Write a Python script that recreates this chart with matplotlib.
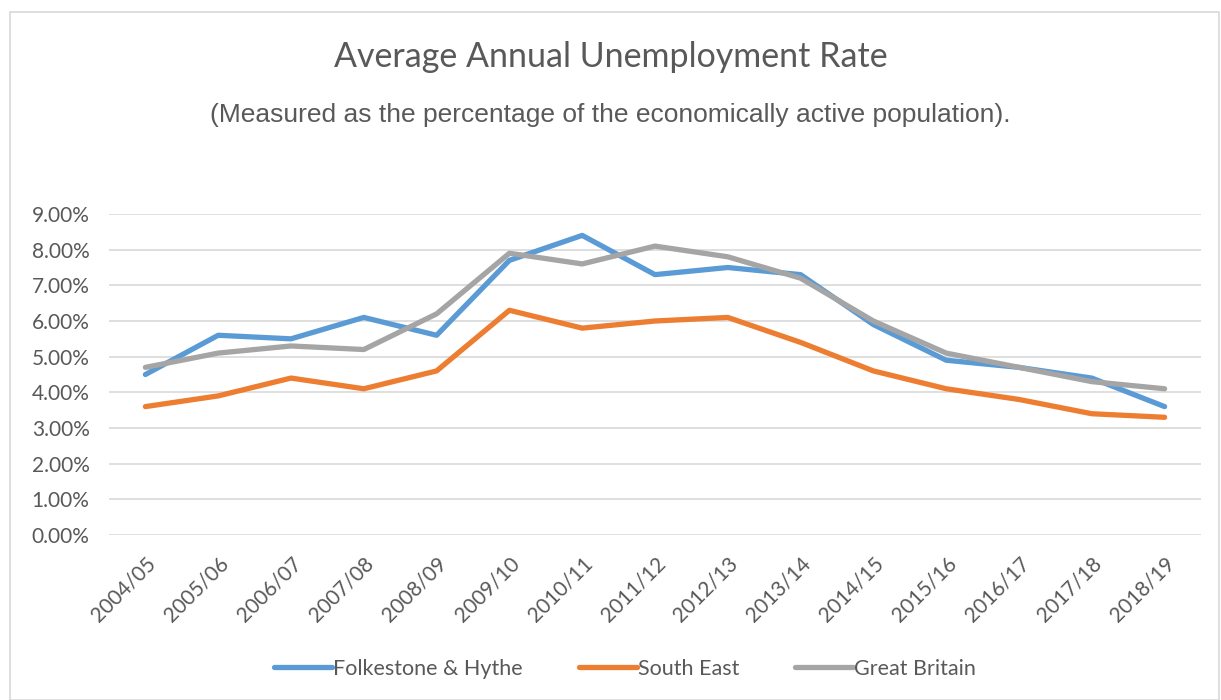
import matplotlib.pyplot as plt
from matplotlib.patches import Rectangle
from matplotlib.ticker import FuncFormatter

# Survey years
years = ["2004/05", "2005/06", "2006/07", "2007/08", "2008/09", "2009/10",
         "2010/11", "2011/12", "2012/13", "2013/14", "2014/15", "2015/16",
         "2016/17", "2017/18", "2018/19"]

# Unemployment rate, percent of economically active population
folkestone = [4.5, 5.6, 5.5, 6.1, 5.6, 7.7, 8.4, 7.3, 7.5, 7.3, 5.9, 4.9, 4.7, 4.4, 3.6]
south_east = [3.6, 3.9, 4.4, 4.1, 4.6, 6.3, 5.8, 6.0, 6.1, 5.4, 4.6, 4.1, 3.8, 3.4, 3.3]
great_britain = [4.7, 5.1, 5.3, 5.2, 6.2, 7.9, 7.6, 8.1, 7.8, 7.2, 6.0, 5.1, 4.7, 4.3, 4.1]

text_col = "#595959"
W, H = 1221, 700

fig = plt.figure(figsize=(W / 100, H / 100), dpi=100)
ax = fig.add_axes([109 / W, 1 - 535 / H, (1201 - 109) / W, (535 - 214) / H])

# outer chart border
fig.patches.append(Rectangle((10 / W, 0.0), (1219 - 10) / W, 1 - 12 / H,
                             transform=fig.transFigure, fill=False,
                             edgecolor="#D9D9D9", linewidth=1.2))

x = list(range(len(years)))
ax.plot(x, folkestone, color="#5B9BD5", lw=3.8, label="Folkestone & Hythe", solid_capstyle="round")
ax.plot(x, south_east, color="#ED7D31", lw=3.8, label="South East", solid_capstyle="round")
ax.plot(x, great_britain, color="#A5A5A5", lw=3.8, label="Great Britain", solid_capstyle="round")

ax.set_xlim(-0.5, len(years) - 0.5)
ax.set_ylim(0, 9)
ax.set_yticks([i for i in range(10)])
ax.yaxis.set_major_formatter(FuncFormatter(lambda v, p: f"{v:.2f}%"))
ax.set_xticks(x)
ax.set_xticklabels(years, rotation=45, ha="right", rotation_mode="anchor")
ax.grid(axis="y", color="#D9D9D9", lw=1.2)
ax.set_axisbelow(True)
for s in ax.spines.values():
    s.set_visible(False)
ax.tick_params(length=0, labelcolor=text_col, labelsize=15)
ax.tick_params(axis="x", pad=13)
ax.tick_params(axis="y", pad=14)
for lab in ax.get_xticklabels() + ax.get_yticklabels():
    lab.set_family("Lato")

fig.text(0.5, 1 - 57 / H, "Average Annual Unemployment Rate", ha="center", va="center",
         fontsize=24.5, color=text_col, family="Lato")
fig.text(0.5, 1 - 115 / H, "(Measured as the percentage of the economically active population).",
         ha="center", va="center", fontsize=19, color=text_col, family="Liberation Sans")

leg = fig.legend(loc="center", bbox_to_anchor=(625 / W, 1 - 669 / H), ncol=3, frameon=False,
                 handlelength=2.7, handletextpad=0.05, columnspacing=2.6,
                 prop={"family": "Lato", "size": 15.5})
for t in leg.get_texts():
    t.set_color(text_col)

fig.savefig("out.png", dpi=100)
